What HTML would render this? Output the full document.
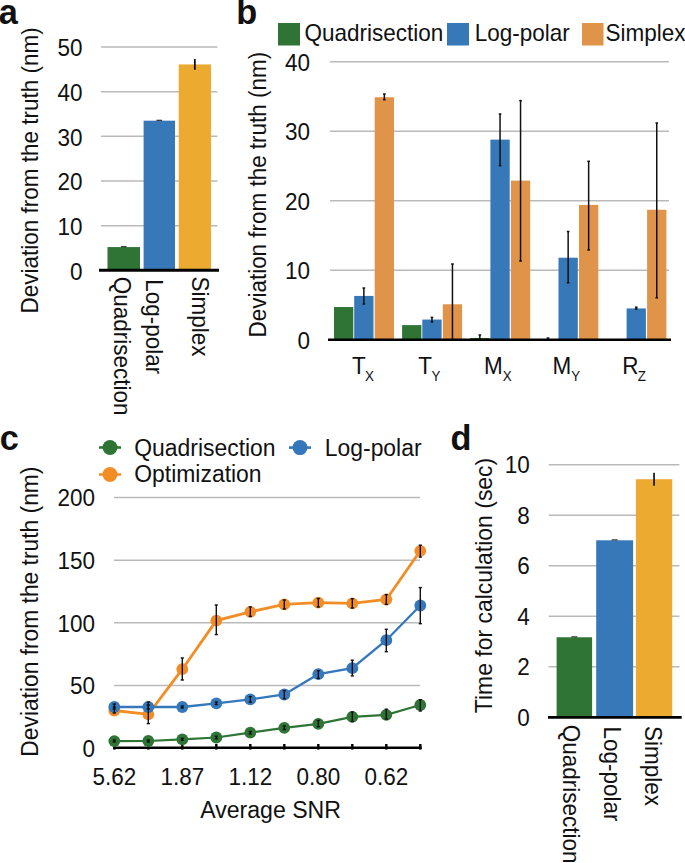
<!DOCTYPE html>
<html><head><meta charset="utf-8"><style>
html,body{margin:0;padding:0;background:#fff;}
svg{display:block;}
text{font-family:"Liberation Sans", sans-serif;fill:#111;}
</style></head><body>
<svg width="685" height="863" viewBox="0 0 685 863">
<rect width="685" height="863" fill="#fff"/>
<text transform="translate(-1.2,24.1) scale(1,1.0)" font-size="34.3" text-anchor="start" font-weight="bold" >a</text>
<text transform="translate(236.3,24.2) scale(1,1.0)" font-size="34.3" text-anchor="start" font-weight="bold" >b</text>
<text transform="translate(-0.2,450.4) scale(1,1.0)" font-size="34.3" text-anchor="start" font-weight="bold" >c</text>
<text transform="translate(450.4,450.2) scale(1,1.0)" font-size="34.3" text-anchor="start" font-weight="bold" >d</text>
<line x1="101" y1="225.64000000000001" x2="217.5" y2="225.64000000000001" stroke="#bababa" stroke-width="1.5"/>
<line x1="101" y1="180.98000000000002" x2="217.5" y2="180.98000000000002" stroke="#bababa" stroke-width="1.5"/>
<line x1="101" y1="136.32000000000002" x2="217.5" y2="136.32000000000002" stroke="#bababa" stroke-width="1.5"/>
<line x1="101" y1="91.66000000000003" x2="217.5" y2="91.66000000000003" stroke="#bababa" stroke-width="1.5"/>
<line x1="101" y1="47.0" x2="217.5" y2="47.0" stroke="#bababa" stroke-width="1.5"/>
<text transform="translate(82.5,279.5) scale(1,1.04)" font-size="22.5" text-anchor="end" font-weight="normal" >0</text>
<text transform="translate(82.5,234.84) scale(1,1.04)" font-size="22.5" text-anchor="end" font-weight="normal" >10</text>
<text transform="translate(82.5,190.18) scale(1,1.04)" font-size="22.5" text-anchor="end" font-weight="normal" >20</text>
<text transform="translate(82.5,145.52) scale(1,1.04)" font-size="22.5" text-anchor="end" font-weight="normal" >30</text>
<text transform="translate(82.5,100.86000000000003) scale(1,1.04)" font-size="22.5" text-anchor="end" font-weight="normal" >40</text>
<text transform="translate(82.5,56.2) scale(1,1.04)" font-size="22.5" text-anchor="end" font-weight="normal" >50</text>
<rect x="107.5" y="247.07680000000002" width="32.5" height="23.22319999999999" fill="#2f7434"/>
<line x1="120.95" y1="246.67680000000001" x2="126.55" y2="246.67680000000001" stroke="#222" stroke-width="1.1"/>
<rect x="143.6" y="120.68900000000002" width="31.400000000000006" height="149.611" fill="#3778b9"/>
<line x1="156.5" y1="120.28900000000002" x2="162.10000000000002" y2="120.28900000000002" stroke="#222" stroke-width="1.1"/>
<rect x="178.7" y="64.41739999999999" width="32.30000000000001" height="205.88260000000002" fill="#ecab30"/>
<line x1="194.85" y1="59.05819999999997" x2="194.85" y2="69.7766" stroke="#111" stroke-width="1.8"/>
<line x1="99" y1="270.3" x2="219" y2="270.3" stroke="#000" stroke-width="3"/>
<text transform="translate(114.2,276.7) rotate(90) scale(1,1.04)" font-size="22.5">Quadrisection</text>
<text transform="translate(146.4,279.2) rotate(90) scale(1,1.04)" font-size="22.5">Log-polar</text>
<text transform="translate(191.6,276.5) rotate(90) scale(1,1.04)" font-size="22.5">Simplex</text>
<text transform="translate(38.2,313.45) rotate(-90) scale(1,1.04)" font-size="22.5">Deviation from the truth (nm)</text>
<line x1="330" y1="270.225" x2="669" y2="270.225" stroke="#bababa" stroke-width="1.5"/>
<line x1="330" y1="200.75" x2="669" y2="200.75" stroke="#bababa" stroke-width="1.5"/>
<line x1="330" y1="131.27499999999998" x2="669" y2="131.27499999999998" stroke="#bababa" stroke-width="1.5"/>
<line x1="330" y1="61.80000000000001" x2="669" y2="61.80000000000001" stroke="#bababa" stroke-width="1.5"/>
<text transform="translate(310,348.5) scale(1,1.04)" font-size="22.5" text-anchor="end" font-weight="normal" >0</text>
<text transform="translate(310,279.02500000000003) scale(1,1.04)" font-size="22.5" text-anchor="end" font-weight="normal" >10</text>
<text transform="translate(310,209.55) scale(1,1.04)" font-size="22.5" text-anchor="end" font-weight="normal" >20</text>
<text transform="translate(310,140.075) scale(1,1.04)" font-size="22.5" text-anchor="end" font-weight="normal" >30</text>
<text transform="translate(310,70.60000000000001) scale(1,1.04)" font-size="22.5" text-anchor="end" font-weight="normal" >40</text>
<rect x="334.0" y="307.04675" width="19.3" height="32.653250000000014" fill="#2f7434"/>
<rect x="354.2" y="295.93075" width="19.3" height="43.76925" fill="#3778b9"/>
<rect x="374.7" y="97.23225000000002" width="19.3" height="242.46774999999997" fill="#e0944a"/>
<line x1="363.84999999999997" y1="288" x2="363.84999999999997" y2="304" stroke="#111" stroke-width="1.5"/>
<line x1="362.54999999999995" y1="288" x2="365.15" y2="288" stroke="#111" stroke-width="1.5"/>
<line x1="362.54999999999995" y1="304" x2="365.15" y2="304" stroke="#111" stroke-width="1.5"/>
<line x1="384.34999999999997" y1="94" x2="384.34999999999997" y2="99.7" stroke="#111" stroke-width="1.5"/>
<line x1="383.04999999999995" y1="94" x2="385.65" y2="94" stroke="#111" stroke-width="1.5"/>
<line x1="383.04999999999995" y1="99.7" x2="385.65" y2="99.7" stroke="#111" stroke-width="1.5"/>
<rect x="402.1" y="325.11025" width="19.3" height="14.589749999999981" fill="#2f7434"/>
<rect x="422.29999999999995" y="319.55225" width="19.3" height="20.147749999999974" fill="#3778b9"/>
<rect x="442.79999999999995" y="304.26775" width="19.3" height="35.43225000000001" fill="#e0944a"/>
<line x1="431.94999999999993" y1="317.4" x2="431.94999999999993" y2="322" stroke="#111" stroke-width="1.5"/>
<line x1="430.6499999999999" y1="317.4" x2="433.24999999999994" y2="317.4" stroke="#111" stroke-width="1.5"/>
<line x1="430.6499999999999" y1="322" x2="433.24999999999994" y2="322" stroke="#111" stroke-width="1.5"/>
<line x1="452.44999999999993" y1="264" x2="452.44999999999993" y2="340" stroke="#111" stroke-width="1.5"/>
<line x1="451.1499999999999" y1="264" x2="453.74999999999994" y2="264" stroke="#111" stroke-width="1.5"/>
<line x1="451.1499999999999" y1="340" x2="453.74999999999994" y2="340" stroke="#111" stroke-width="1.5"/>
<rect x="470.2" y="337.963125" width="19.3" height="1.7368749999999977" fill="#2f7434"/>
<rect x="490.4" y="139.612" width="19.3" height="200.088" fill="#3778b9"/>
<rect x="510.9" y="180.60225000000003" width="19.3" height="159.09774999999996" fill="#e0944a"/>
<line x1="479.84999999999997" y1="335" x2="479.84999999999997" y2="340" stroke="#111" stroke-width="1.5"/>
<line x1="478.54999999999995" y1="335" x2="481.15" y2="335" stroke="#111" stroke-width="1.5"/>
<line x1="478.54999999999995" y1="340" x2="481.15" y2="340" stroke="#111" stroke-width="1.5"/>
<line x1="500.04999999999995" y1="114" x2="500.04999999999995" y2="165.7" stroke="#111" stroke-width="1.5"/>
<line x1="498.74999999999994" y1="114" x2="501.34999999999997" y2="114" stroke="#111" stroke-width="1.5"/>
<line x1="498.74999999999994" y1="165.7" x2="501.34999999999997" y2="165.7" stroke="#111" stroke-width="1.5"/>
<line x1="520.55" y1="100.6" x2="520.55" y2="261" stroke="#111" stroke-width="1.5"/>
<line x1="519.25" y1="100.6" x2="521.8499999999999" y2="100.6" stroke="#111" stroke-width="1.5"/>
<line x1="519.25" y1="261" x2="521.8499999999999" y2="261" stroke="#111" stroke-width="1.5"/>
<rect x="538.3" y="339.00525" width="19.3" height="0.6947499999999991" fill="#2f7434"/>
<rect x="558.5" y="257.7195" width="19.3" height="81.9805" fill="#3778b9"/>
<rect x="579.0" y="204.9185" width="19.3" height="134.7815" fill="#e0944a"/>
<line x1="547.9499999999999" y1="338" x2="547.9499999999999" y2="340" stroke="#111" stroke-width="1.5"/>
<line x1="546.65" y1="338" x2="549.2499999999999" y2="338" stroke="#111" stroke-width="1.5"/>
<line x1="546.65" y1="340" x2="549.2499999999999" y2="340" stroke="#111" stroke-width="1.5"/>
<line x1="568.15" y1="231.5" x2="568.15" y2="282.8" stroke="#111" stroke-width="1.5"/>
<line x1="566.85" y1="231.5" x2="569.4499999999999" y2="231.5" stroke="#111" stroke-width="1.5"/>
<line x1="566.85" y1="282.8" x2="569.4499999999999" y2="282.8" stroke="#111" stroke-width="1.5"/>
<line x1="588.65" y1="161.3" x2="588.65" y2="250" stroke="#111" stroke-width="1.5"/>
<line x1="587.35" y1="161.3" x2="589.9499999999999" y2="161.3" stroke="#111" stroke-width="1.5"/>
<line x1="587.35" y1="250" x2="589.9499999999999" y2="250" stroke="#111" stroke-width="1.5"/>
<rect x="626.5999999999999" y="308.43625" width="19.3" height="31.263750000000016" fill="#3778b9"/>
<rect x="647.0999999999999" y="209.78175" width="19.3" height="129.91825" fill="#e0944a"/>
<line x1="636.2499999999999" y1="307.2" x2="636.2499999999999" y2="309" stroke="#111" stroke-width="1.5"/>
<line x1="634.9499999999999" y1="307.2" x2="637.5499999999998" y2="307.2" stroke="#111" stroke-width="1.5"/>
<line x1="634.9499999999999" y1="309" x2="637.5499999999998" y2="309" stroke="#111" stroke-width="1.5"/>
<line x1="656.7499999999999" y1="123" x2="656.7499999999999" y2="297.8" stroke="#111" stroke-width="1.5"/>
<line x1="655.4499999999999" y1="123" x2="658.0499999999998" y2="123" stroke="#111" stroke-width="1.5"/>
<line x1="655.4499999999999" y1="297.8" x2="658.0499999999998" y2="297.8" stroke="#111" stroke-width="1.5"/>
<line x1="328" y1="339.7" x2="671" y2="339.7" stroke="#000" stroke-width="2.6"/>
<text transform="translate(352.1,373.7) scale(1,1.04)" font-size="22.5" text-anchor="start" font-weight="normal" >T</text>
<text transform="translate(364.9,381.4) scale(1,1.04)" font-size="13.4" text-anchor="start" font-weight="normal" >X</text>
<text transform="translate(418.3,373.7) scale(1,1.04)" font-size="22.5" text-anchor="start" font-weight="normal" >T</text>
<text transform="translate(431.4,381.4) scale(1,1.04)" font-size="13.4" text-anchor="start" font-weight="normal" >Y</text>
<text transform="translate(483.95,373.7) scale(1,1.04)" font-size="22.5" text-anchor="start" font-weight="normal" >M</text>
<text transform="translate(502.7,381.4) scale(1,1.04)" font-size="13.4" text-anchor="start" font-weight="normal" >X</text>
<text transform="translate(552.55,373.7) scale(1,1.04)" font-size="22.5" text-anchor="start" font-weight="normal" >M</text>
<text transform="translate(571.3,381.4) scale(1,1.04)" font-size="13.4" text-anchor="start" font-weight="normal" >Y</text>
<text transform="translate(622.15,373.7) scale(1,1.04)" font-size="22.5" text-anchor="start" font-weight="normal" >R</text>
<text transform="translate(637.8,381.4) scale(1,1.04)" font-size="13.4" text-anchor="start" font-weight="normal" >Z</text>
<text transform="translate(266.1,337.45) rotate(-90) scale(1,1.04)" font-size="22.45">Deviation from the truth (nm)</text>
<rect x="278" y="23" width="22" height="22.5" fill="#2f7434"/>
<text transform="translate(304.5,41) scale(1,1.04)" font-size="22.5" text-anchor="start" font-weight="normal" >Quadrisection</text>
<rect x="447" y="23" width="22" height="22.5" fill="#3778b9"/>
<text transform="translate(474.7,41) scale(1,1.04)" font-size="22.5" text-anchor="start" font-weight="normal" >Log-polar</text>
<rect x="582" y="23" width="21.5" height="22.5" fill="#e0944a"/>
<text transform="translate(605.6,41) scale(1,1.04)" font-size="22.5" text-anchor="start" font-weight="normal" >Simplex</text>
<line x1="114" y1="685.45" x2="420" y2="685.45" stroke="#bababa" stroke-width="1.5"/>
<line x1="114" y1="622.8" x2="420" y2="622.8" stroke="#bababa" stroke-width="1.5"/>
<line x1="114" y1="560.1500000000001" x2="420" y2="560.1500000000001" stroke="#bababa" stroke-width="1.5"/>
<line x1="114" y1="497.5" x2="420" y2="497.5" stroke="#bababa" stroke-width="1.5"/>
<text transform="translate(95,756.9) scale(1,1.04)" font-size="22.5" text-anchor="end" font-weight="normal" >0</text>
<text transform="translate(95,694.25) scale(1,1.04)" font-size="22.5" text-anchor="end" font-weight="normal" >50</text>
<text transform="translate(95,631.5999999999999) scale(1,1.04)" font-size="22.5" text-anchor="end" font-weight="normal" >100</text>
<text transform="translate(95,568.95) scale(1,1.04)" font-size="22.5" text-anchor="end" font-weight="normal" >150</text>
<text transform="translate(95,506.3) scale(1,1.04)" font-size="22.5" text-anchor="end" font-weight="normal" >200</text>
<line x1="113" y1="747.7" x2="421.7" y2="747.7" stroke="#000" stroke-width="2.5"/>
<line x1="114.3" y1="744" x2="114.3" y2="749.6" stroke="#000" stroke-width="2.4"/>
<line x1="148.3" y1="744" x2="148.3" y2="749.6" stroke="#000" stroke-width="2.4"/>
<line x1="182.3" y1="744" x2="182.3" y2="749.6" stroke="#000" stroke-width="2.4"/>
<line x1="216.3" y1="744" x2="216.3" y2="749.6" stroke="#000" stroke-width="2.4"/>
<line x1="250.3" y1="744" x2="250.3" y2="749.6" stroke="#000" stroke-width="2.4"/>
<line x1="284.3" y1="744" x2="284.3" y2="749.6" stroke="#000" stroke-width="2.4"/>
<line x1="318.3" y1="744" x2="318.3" y2="749.6" stroke="#000" stroke-width="2.4"/>
<line x1="352.3" y1="744" x2="352.3" y2="749.6" stroke="#000" stroke-width="2.4"/>
<line x1="386.3" y1="744" x2="386.3" y2="749.6" stroke="#000" stroke-width="2.4"/>
<line x1="420.3" y1="744" x2="420.3" y2="749.6" stroke="#000" stroke-width="2.4"/>
<polyline points="114.3,710.5 148.3,714.3 182.3,669.2 216.3,620.6 250.3,611.8 284.3,604.4 318.3,602.7 352.3,603.4 386.3,599.5 420.3,550.8" fill="none" stroke="#f28d26" stroke-width="2.8"/>
<circle cx="114.3" cy="710.5" r="5.9" fill="#f28d26"/>
<circle cx="148.3" cy="714.3" r="5.9" fill="#f28d26"/>
<circle cx="182.3" cy="669.2" r="5.9" fill="#f28d26"/>
<circle cx="216.3" cy="620.6" r="5.9" fill="#f28d26"/>
<circle cx="250.3" cy="611.8" r="5.9" fill="#f28d26"/>
<circle cx="284.3" cy="604.4" r="5.9" fill="#f28d26"/>
<circle cx="318.3" cy="602.7" r="5.9" fill="#f28d26"/>
<circle cx="352.3" cy="603.4" r="5.9" fill="#f28d26"/>
<circle cx="386.3" cy="599.5" r="5.9" fill="#f28d26"/>
<circle cx="420.3" cy="550.8" r="5.9" fill="#f28d26"/>
<polyline points="114.3,707 148.3,707 182.3,707 216.3,703.3 250.3,699.4 284.3,694.5 318.3,674.2 352.3,668.2 386.3,640.2 420.3,605.5" fill="none" stroke="#3477ba" stroke-width="2.3"/>
<circle cx="114.3" cy="707" r="5.9" fill="#3477ba"/>
<circle cx="148.3" cy="707" r="5.9" fill="#3477ba"/>
<circle cx="182.3" cy="707" r="5.9" fill="#3477ba"/>
<circle cx="216.3" cy="703.3" r="5.9" fill="#3477ba"/>
<circle cx="250.3" cy="699.4" r="5.9" fill="#3477ba"/>
<circle cx="284.3" cy="694.5" r="5.9" fill="#3477ba"/>
<circle cx="318.3" cy="674.2" r="5.9" fill="#3477ba"/>
<circle cx="352.3" cy="668.2" r="5.9" fill="#3477ba"/>
<circle cx="386.3" cy="640.2" r="5.9" fill="#3477ba"/>
<circle cx="420.3" cy="605.5" r="5.9" fill="#3477ba"/>
<polyline points="114.3,741.1 148.3,741 182.3,739.3 216.3,737.5 250.3,732.7 284.3,727.8 318.3,723.9 352.3,716.9 386.3,714.8 420.3,705" fill="none" stroke="#2e7535" stroke-width="2.2"/>
<circle cx="114.3" cy="741.1" r="5.9" fill="#2e7535"/>
<circle cx="148.3" cy="741" r="5.9" fill="#2e7535"/>
<circle cx="182.3" cy="739.3" r="5.9" fill="#2e7535"/>
<circle cx="216.3" cy="737.5" r="5.9" fill="#2e7535"/>
<circle cx="250.3" cy="732.7" r="5.9" fill="#2e7535"/>
<circle cx="284.3" cy="727.8" r="5.9" fill="#2e7535"/>
<circle cx="318.3" cy="723.9" r="5.9" fill="#2e7535"/>
<circle cx="352.3" cy="716.9" r="5.9" fill="#2e7535"/>
<circle cx="386.3" cy="714.8" r="5.9" fill="#2e7535"/>
<circle cx="420.3" cy="705" r="5.9" fill="#2e7535"/>
<line x1="114.3" y1="707" x2="114.3" y2="713" stroke="#111" stroke-width="1.4"/>
<line x1="112.7" y1="707" x2="115.89999999999999" y2="707" stroke="#111" stroke-width="1.4"/>
<line x1="112.7" y1="713" x2="115.89999999999999" y2="713" stroke="#111" stroke-width="1.4"/>
<line x1="148.3" y1="702" x2="148.3" y2="723.6" stroke="#111" stroke-width="1.4"/>
<line x1="146.70000000000002" y1="702" x2="149.9" y2="702" stroke="#111" stroke-width="1.4"/>
<line x1="146.70000000000002" y1="723.6" x2="149.9" y2="723.6" stroke="#111" stroke-width="1.4"/>
<line x1="182.3" y1="658" x2="182.3" y2="680" stroke="#111" stroke-width="1.4"/>
<line x1="180.70000000000002" y1="658" x2="183.9" y2="658" stroke="#111" stroke-width="1.4"/>
<line x1="180.70000000000002" y1="680" x2="183.9" y2="680" stroke="#111" stroke-width="1.4"/>
<line x1="216.3" y1="605" x2="216.3" y2="634.6" stroke="#111" stroke-width="1.4"/>
<line x1="214.70000000000002" y1="605" x2="217.9" y2="605" stroke="#111" stroke-width="1.4"/>
<line x1="214.70000000000002" y1="634.6" x2="217.9" y2="634.6" stroke="#111" stroke-width="1.4"/>
<line x1="250.3" y1="606.9" x2="250.3" y2="616.4" stroke="#111" stroke-width="1.4"/>
<line x1="248.70000000000002" y1="606.9" x2="251.9" y2="606.9" stroke="#111" stroke-width="1.4"/>
<line x1="248.70000000000002" y1="616.4" x2="251.9" y2="616.4" stroke="#111" stroke-width="1.4"/>
<line x1="284.3" y1="600" x2="284.3" y2="609" stroke="#111" stroke-width="1.4"/>
<line x1="282.7" y1="600" x2="285.90000000000003" y2="600" stroke="#111" stroke-width="1.4"/>
<line x1="282.7" y1="609" x2="285.90000000000003" y2="609" stroke="#111" stroke-width="1.4"/>
<line x1="318.3" y1="598.5" x2="318.3" y2="607" stroke="#111" stroke-width="1.4"/>
<line x1="316.7" y1="598.5" x2="319.90000000000003" y2="598.5" stroke="#111" stroke-width="1.4"/>
<line x1="316.7" y1="607" x2="319.90000000000003" y2="607" stroke="#111" stroke-width="1.4"/>
<line x1="352.3" y1="598.8" x2="352.3" y2="608" stroke="#111" stroke-width="1.4"/>
<line x1="350.7" y1="598.8" x2="353.90000000000003" y2="598.8" stroke="#111" stroke-width="1.4"/>
<line x1="350.7" y1="608" x2="353.90000000000003" y2="608" stroke="#111" stroke-width="1.4"/>
<line x1="386.3" y1="594.6" x2="386.3" y2="604.4" stroke="#111" stroke-width="1.4"/>
<line x1="384.7" y1="594.6" x2="387.90000000000003" y2="594.6" stroke="#111" stroke-width="1.4"/>
<line x1="384.7" y1="604.4" x2="387.90000000000003" y2="604.4" stroke="#111" stroke-width="1.4"/>
<line x1="420.3" y1="545.2" x2="420.3" y2="557.1" stroke="#111" stroke-width="1.4"/>
<line x1="418.7" y1="545.2" x2="421.90000000000003" y2="545.2" stroke="#111" stroke-width="1.4"/>
<line x1="418.7" y1="557.1" x2="421.90000000000003" y2="557.1" stroke="#111" stroke-width="1.4"/>
<line x1="114.3" y1="704" x2="114.3" y2="709" stroke="#111" stroke-width="1.4"/>
<line x1="112.7" y1="704" x2="115.89999999999999" y2="704" stroke="#111" stroke-width="1.4"/>
<line x1="112.7" y1="709" x2="115.89999999999999" y2="709" stroke="#111" stroke-width="1.4"/>
<line x1="148.3" y1="705" x2="148.3" y2="709" stroke="#111" stroke-width="1.4"/>
<line x1="146.70000000000002" y1="705" x2="149.9" y2="705" stroke="#111" stroke-width="1.4"/>
<line x1="146.70000000000002" y1="709" x2="149.9" y2="709" stroke="#111" stroke-width="1.4"/>
<line x1="182.3" y1="706" x2="182.3" y2="708" stroke="#111" stroke-width="1.4"/>
<line x1="180.70000000000002" y1="706" x2="183.9" y2="706" stroke="#111" stroke-width="1.4"/>
<line x1="180.70000000000002" y1="708" x2="183.9" y2="708" stroke="#111" stroke-width="1.4"/>
<line x1="216.3" y1="702" x2="216.3" y2="704.5" stroke="#111" stroke-width="1.4"/>
<line x1="214.70000000000002" y1="702" x2="217.9" y2="702" stroke="#111" stroke-width="1.4"/>
<line x1="214.70000000000002" y1="704.5" x2="217.9" y2="704.5" stroke="#111" stroke-width="1.4"/>
<line x1="250.3" y1="696.6" x2="250.3" y2="702.2" stroke="#111" stroke-width="1.4"/>
<line x1="248.70000000000002" y1="696.6" x2="251.9" y2="696.6" stroke="#111" stroke-width="1.4"/>
<line x1="248.70000000000002" y1="702.2" x2="251.9" y2="702.2" stroke="#111" stroke-width="1.4"/>
<line x1="284.3" y1="690.6" x2="284.3" y2="698.7" stroke="#111" stroke-width="1.4"/>
<line x1="282.7" y1="690.6" x2="285.90000000000003" y2="690.6" stroke="#111" stroke-width="1.4"/>
<line x1="282.7" y1="698.7" x2="285.90000000000003" y2="698.7" stroke="#111" stroke-width="1.4"/>
<line x1="318.3" y1="670.7" x2="318.3" y2="678.4" stroke="#111" stroke-width="1.4"/>
<line x1="316.7" y1="670.7" x2="319.90000000000003" y2="670.7" stroke="#111" stroke-width="1.4"/>
<line x1="316.7" y1="678.4" x2="319.90000000000003" y2="678.4" stroke="#111" stroke-width="1.4"/>
<line x1="352.3" y1="660.2" x2="352.3" y2="675.9" stroke="#111" stroke-width="1.4"/>
<line x1="350.7" y1="660.2" x2="353.90000000000003" y2="660.2" stroke="#111" stroke-width="1.4"/>
<line x1="350.7" y1="675.9" x2="353.90000000000003" y2="675.9" stroke="#111" stroke-width="1.4"/>
<line x1="386.3" y1="629.3" x2="386.3" y2="651.7" stroke="#111" stroke-width="1.4"/>
<line x1="384.7" y1="629.3" x2="387.90000000000003" y2="629.3" stroke="#111" stroke-width="1.4"/>
<line x1="384.7" y1="651.7" x2="387.90000000000003" y2="651.7" stroke="#111" stroke-width="1.4"/>
<line x1="420.3" y1="587.6" x2="420.3" y2="623.7" stroke="#111" stroke-width="1.4"/>
<line x1="418.7" y1="587.6" x2="421.90000000000003" y2="587.6" stroke="#111" stroke-width="1.4"/>
<line x1="418.7" y1="623.7" x2="421.90000000000003" y2="623.7" stroke="#111" stroke-width="1.4"/>
<line x1="114.3" y1="740" x2="114.3" y2="742" stroke="#111" stroke-width="1.4"/>
<line x1="112.7" y1="740" x2="115.89999999999999" y2="740" stroke="#111" stroke-width="1.4"/>
<line x1="112.7" y1="742" x2="115.89999999999999" y2="742" stroke="#111" stroke-width="1.4"/>
<line x1="148.3" y1="740" x2="148.3" y2="742" stroke="#111" stroke-width="1.4"/>
<line x1="146.70000000000002" y1="740" x2="149.9" y2="740" stroke="#111" stroke-width="1.4"/>
<line x1="146.70000000000002" y1="742" x2="149.9" y2="742" stroke="#111" stroke-width="1.4"/>
<line x1="182.3" y1="738.3" x2="182.3" y2="740.3" stroke="#111" stroke-width="1.4"/>
<line x1="180.70000000000002" y1="738.3" x2="183.9" y2="738.3" stroke="#111" stroke-width="1.4"/>
<line x1="180.70000000000002" y1="740.3" x2="183.9" y2="740.3" stroke="#111" stroke-width="1.4"/>
<line x1="216.3" y1="736.2" x2="216.3" y2="738.8" stroke="#111" stroke-width="1.4"/>
<line x1="214.70000000000002" y1="736.2" x2="217.9" y2="736.2" stroke="#111" stroke-width="1.4"/>
<line x1="214.70000000000002" y1="738.8" x2="217.9" y2="738.8" stroke="#111" stroke-width="1.4"/>
<line x1="250.3" y1="731.5" x2="250.3" y2="734" stroke="#111" stroke-width="1.4"/>
<line x1="248.70000000000002" y1="731.5" x2="251.9" y2="731.5" stroke="#111" stroke-width="1.4"/>
<line x1="248.70000000000002" y1="734" x2="251.9" y2="734" stroke="#111" stroke-width="1.4"/>
<line x1="284.3" y1="726" x2="284.3" y2="729.5" stroke="#111" stroke-width="1.4"/>
<line x1="282.7" y1="726" x2="285.90000000000003" y2="726" stroke="#111" stroke-width="1.4"/>
<line x1="282.7" y1="729.5" x2="285.90000000000003" y2="729.5" stroke="#111" stroke-width="1.4"/>
<line x1="318.3" y1="720.4" x2="318.3" y2="726.7" stroke="#111" stroke-width="1.4"/>
<line x1="316.7" y1="720.4" x2="319.90000000000003" y2="720.4" stroke="#111" stroke-width="1.4"/>
<line x1="316.7" y1="726.7" x2="319.90000000000003" y2="726.7" stroke="#111" stroke-width="1.4"/>
<line x1="352.3" y1="712" x2="352.3" y2="721.5" stroke="#111" stroke-width="1.4"/>
<line x1="350.7" y1="712" x2="353.90000000000003" y2="712" stroke="#111" stroke-width="1.4"/>
<line x1="350.7" y1="721.5" x2="353.90000000000003" y2="721.5" stroke="#111" stroke-width="1.4"/>
<line x1="386.3" y1="709.2" x2="386.3" y2="719" stroke="#111" stroke-width="1.4"/>
<line x1="384.7" y1="709.2" x2="387.90000000000003" y2="709.2" stroke="#111" stroke-width="1.4"/>
<line x1="384.7" y1="719" x2="387.90000000000003" y2="719" stroke="#111" stroke-width="1.4"/>
<line x1="420.3" y1="699.7" x2="420.3" y2="711" stroke="#111" stroke-width="1.4"/>
<line x1="418.7" y1="699.7" x2="421.90000000000003" y2="699.7" stroke="#111" stroke-width="1.4"/>
<line x1="418.7" y1="711" x2="421.90000000000003" y2="711" stroke="#111" stroke-width="1.4"/>
<text transform="translate(114.3,785.2) scale(1,1.04)" font-size="22.5" text-anchor="middle" font-weight="normal" >5.62</text>
<text transform="translate(182.3,785.2) scale(1,1.04)" font-size="22.5" text-anchor="middle" font-weight="normal" >1.87</text>
<text transform="translate(250.3,785.2) scale(1,1.04)" font-size="22.5" text-anchor="middle" font-weight="normal" >1.12</text>
<text transform="translate(318.3,785.2) scale(1,1.04)" font-size="22.5" text-anchor="middle" font-weight="normal" >0.80</text>
<text transform="translate(386.3,785.2) scale(1,1.04)" font-size="22.5" text-anchor="middle" font-weight="normal" >0.62</text>
<text transform="translate(270.55,818.3) scale(1,1.04)" font-size="23.1" text-anchor="middle" font-weight="normal" >Average SNR</text>
<text transform="translate(38.25,756.65) rotate(-90) scale(1,1.04)" font-size="22.8">Deviation from the truth (nm)</text>
<line x1="99" y1="447.5" x2="121" y2="447.5" stroke="#2e7535" stroke-width="2.6"/>
<circle cx="110" cy="447.5" r="7.5" fill="#2e7535"/>
<text transform="translate(134.3,456) scale(1,1.04)" font-size="22.9" text-anchor="start" font-weight="normal" >Quadrisection</text>
<line x1="289" y1="447.6" x2="311" y2="447.6" stroke="#3477ba" stroke-width="2.6"/>
<circle cx="300" cy="447.6" r="7.5" fill="#3477ba"/>
<text transform="translate(324.8,456) scale(1,1.04)" font-size="22.9" text-anchor="start" font-weight="normal" >Log-polar</text>
<line x1="99" y1="474.5" x2="121" y2="474.5" stroke="#f28d26" stroke-width="2.6"/>
<circle cx="110" cy="474.5" r="7.5" fill="#f28d26"/>
<text transform="translate(134.3,481.9) scale(1,1.04)" font-size="22.9" text-anchor="start" font-weight="normal" >Optimization</text>
<line x1="548.7" y1="666.8" x2="679.4" y2="666.8" stroke="#bababa" stroke-width="1.5"/>
<line x1="548.7" y1="616.3" x2="679.4" y2="616.3" stroke="#bababa" stroke-width="1.5"/>
<line x1="548.7" y1="565.8" x2="679.4" y2="565.8" stroke="#bababa" stroke-width="1.5"/>
<line x1="548.7" y1="515.3" x2="679.4" y2="515.3" stroke="#bababa" stroke-width="1.5"/>
<line x1="548.7" y1="464.8" x2="679.4" y2="464.8" stroke="#bababa" stroke-width="1.5"/>
<text transform="translate(529.8,725.5999999999999) scale(1,1.04)" font-size="22.5" text-anchor="end" font-weight="normal" >0</text>
<text transform="translate(529.8,675.0999999999999) scale(1,1.04)" font-size="22.5" text-anchor="end" font-weight="normal" >2</text>
<text transform="translate(529.8,624.5999999999999) scale(1,1.04)" font-size="22.5" text-anchor="end" font-weight="normal" >4</text>
<text transform="translate(529.8,574.0999999999999) scale(1,1.04)" font-size="22.5" text-anchor="end" font-weight="normal" >6</text>
<text transform="translate(529.8,523.5999999999999) scale(1,1.04)" font-size="22.5" text-anchor="end" font-weight="normal" >8</text>
<text transform="translate(529.8,473.1) scale(1,1.04)" font-size="22.5" text-anchor="end" font-weight="normal" >10</text>
<rect x="556.6" y="637.2574999999999" width="35.5" height="80.04250000000002" fill="#2f7434"/>
<line x1="571.35" y1="636.8575" x2="577.35" y2="636.8575" stroke="#222" stroke-width="1.1"/>
<rect x="596.2" y="540.2975" width="36.89999999999998" height="177.00249999999994" fill="#3778b9"/>
<line x1="611.6500000000001" y1="539.8975" x2="617.6500000000001" y2="539.8975" stroke="#222" stroke-width="1.1"/>
<rect x="635.9" y="479.1925" width="36.30000000000007" height="238.10749999999996" fill="#ecab30"/>
<line x1="654.05" y1="472.6275" x2="654.05" y2="485.75750000000005" stroke="#111" stroke-width="1.7"/>
<line x1="548" y1="717.3" x2="681.7" y2="717.3" stroke="#000" stroke-width="2.8"/>
<text transform="translate(563.3,724.8) rotate(90) scale(1,1.04)" font-size="22.5">Quadrisection</text>
<text transform="translate(604.2,726.6) rotate(90) scale(1,1.04)" font-size="22.5">Log-polar</text>
<text transform="translate(645.4,726) rotate(90) scale(1,1.04)" font-size="22.5">Simplex</text>
<text transform="translate(491.7,713.2) rotate(-90) scale(1,1.04)" font-size="22.95">Time for calculation (sec)</text>
</svg>
</body></html>
